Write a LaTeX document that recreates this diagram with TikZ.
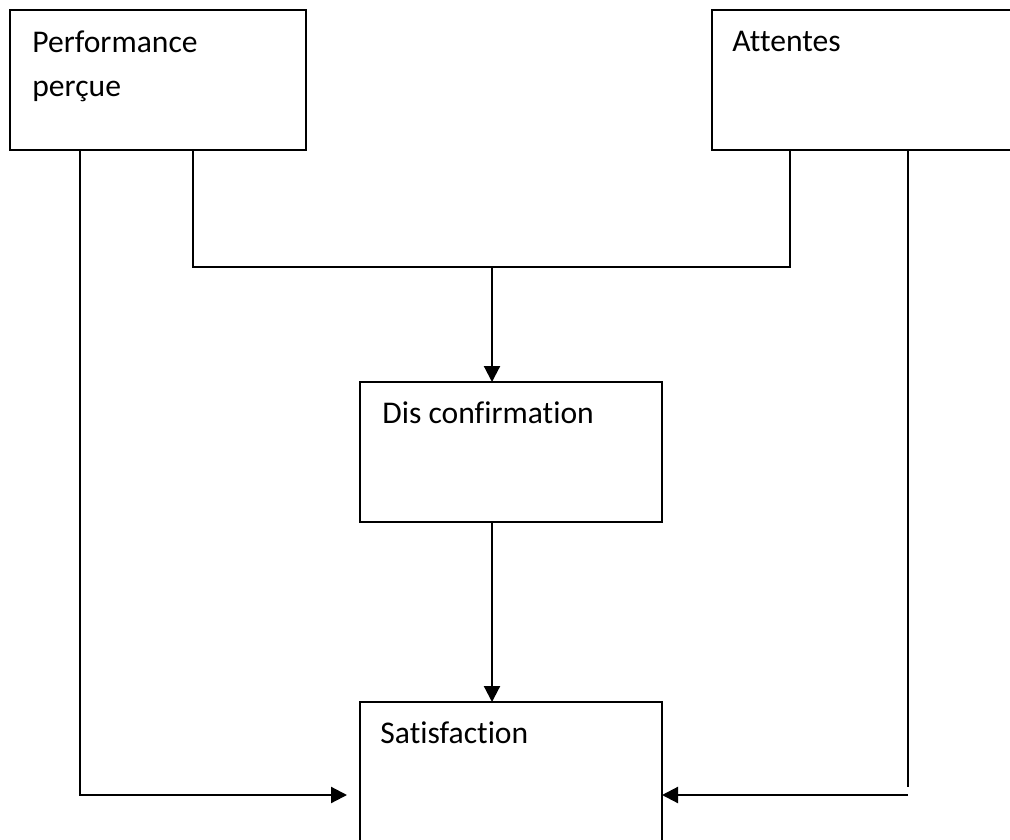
\documentclass[tikz,border=0pt]{standalone}
\usepackage{fontspec}
\setmainfont{Carlito}[Ligatures=CommonOff]
\usepackage{tikz}
\usetikzlibrary{arrows.meta}
\usetikzlibrary{positioning}
\usetikzlibrary{calc}
\tikzset{box/.style = {draw, line width=1.1pt, inner sep=0pt, outer sep=0pt},
         lbl/.style = {inner sep=0pt, anchor=base west, align=left,
                       font=\fontsize{15.8}{22}\selectfont},
         flow/.style = {line width=1.1pt, -{Triangle[length=8pt,width=8pt]}},
         link/.style = {line width=1.1pt}}

\begin{document}
\begin{tikzpicture}[x=0.5pt, y=-0.5pt]
      \useasboundingbox (0, 0) rectangle (1010, 839);
      \node [box, minimum width=148pt, minimum height=70pt] (perf) at (158, 80) {};
      \node [box, minimum width=150pt, minimum height=70pt] (att) at (862, 80) {};
      \node [box, minimum width=151pt, minimum height=70pt] (dis) at (511, 452) {};
      \node [box, minimum width=151pt, minimum height=80pt] (sat) at (511, 782) {};
      % base anchor of a two-line node is its last line
      \node [lbl] (perftxt) at ($(perf.north west) + (22, 87)$) {Performance\\perçue};
      \node [lbl] (atttxt) at ($(att.north west) + (20, 42)$) {Attentes};
      \node [lbl] (distxt) at ($(dis.north west) + (22, 41)$) {Dis confirmation};
      \node [lbl] (sattxt) at ($(sat.north west) + (20, 41)$) {Satisfaction};
      \coordinate (join) at (492, 267);
      \coordinate (leftend) at (347, 795);
      \coordinate (rightstop) at (908, 787);
      \coordinate (rightbend) at (908, 795);
      \draw [link] ($(perf.south west) + (183, 0)$) |- (join) -| ($(att.south west) + (78, 0)$);
      \draw [flow] (join) -- (join |- dis.north);
      \draw [flow] (join |- dis.south) -- (join |- sat.north);
      \draw [flow] ($(perf.south west) + (70, 0)$) |- (leftend);
      \draw [link] ($(att.south west) + (196, 0)$) -- (rightstop);
      \draw [flow] (rightbend) -- (sat.east |- rightbend);
    \end{tikzpicture}
\end{document}
